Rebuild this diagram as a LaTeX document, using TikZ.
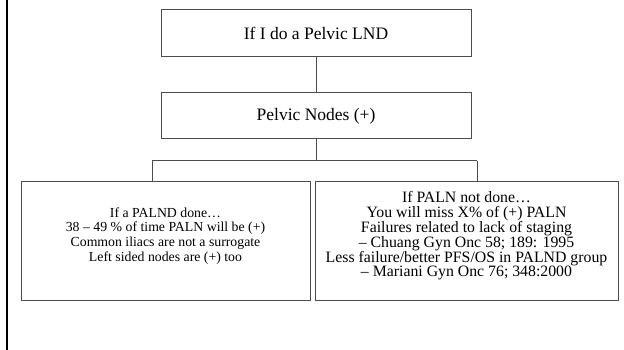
\documentclass[tikz,border=0pt]{standalone}
\usepackage{fontspec}
\setmainfont{Liberation Serif}
\begin{document}
\begin{tikzpicture}[x=1pt,y=-1pt,
  box/.style={draw=black!70, line width=0.8pt, inner sep=0pt, minimum width=#1},
  conn/.style={draw=black!70, line width=0.8pt},
  headtext/.style={font=\fontsize{17.5}{20}\selectfont, inner sep=0pt},
  bodytext/.style={font=\fontsize{#1}{14.8}\selectfont, align=center, inner sep=0pt}]
\useasboundingbox (0,0) rectangle (624,350);
\draw[line width=2pt, black] (6.7,0) -- (6.7,350);
% top boxes
\node[box=310, minimum height=47] (b1) at (316,32.5) {};
\node[headtext] (t1) at (316,33.5) {If I do a Pelvic LND};
\node[box=310, minimum height=46] (b2) at (316,115) {};
\node[headtext] (t2) at (316,116) {Pelvic Nodes (+)};
% bottom boxes
\node[box=289, minimum height=119] (b3) at (165.5,240.5) {};
\node[bodytext=13.8] (t3) at (165.5,236) {If a PALND done\dots\\38 -- 49 \% of time PALN will be (+)\\Common iliacs are not a surrogate\\Left sided nodes are (+) too};
\node[box=303, minimum height=119] (b4) at (466.5,240.5) {};
\node[bodytext=15.8] (t4) at (466.5,236) {If PALN not done\dots\\You will miss X\% of (+) PALN\\Failures related to lack of staging\\-- Chuang Gyn Onc 58; 189: 1995\\Less failure/better PFS/OS in PALND group\\-- Mariani Gyn Onc 76; 348:2000};
% connectors
\coordinate (jl) at (152,160.7);
\coordinate (jr) at (477,160.7);
\draw[conn] (b1.south) -- (b2.north);
\draw[conn] (b2.south) -- (b2.south |- jl);
\draw[conn] (jl) -- (jr);
\draw[conn] (jl) -- (jl |- b3.north);
\draw[conn] (jr) -- (jr |- b4.north);
\end{tikzpicture}
\end{document}
